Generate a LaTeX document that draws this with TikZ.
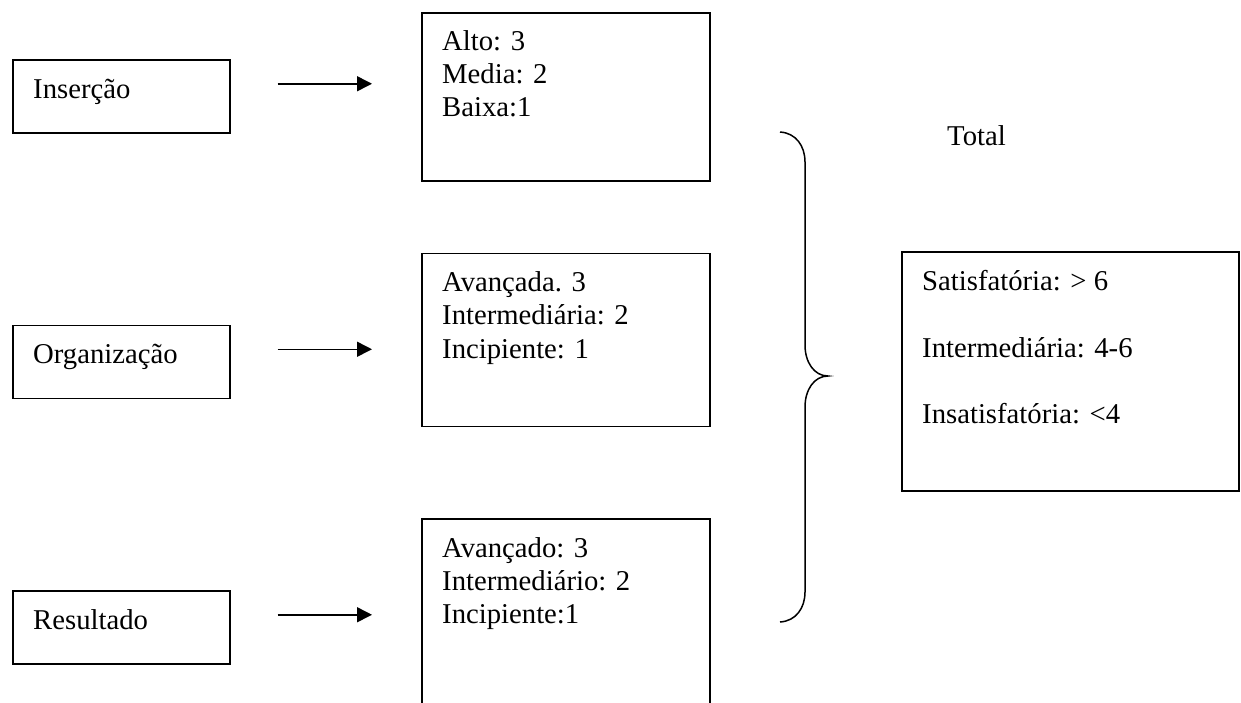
\documentclass[tikz,border=0pt]{standalone}
\usepackage{fontspec}
\setmainfont{Liberation Serif}
\usetikzlibrary{arrows.meta,positioning}

\begin{document}
\begin{tikzpicture}[
    x=1pt, y=-1pt,
    font=\fontsize{28.7}{33.3}\selectfont,
    >={Triangle[length=15pt, width=15pt]},
    box/.style={draw, line width=1.5pt, inner sep=0pt},
    txt/.style={anchor=north west, inner sep=0pt, align=left},
    arr/.style={->, line width=1.5pt, shorten >=49pt}
]
\useasboundingbox (0,0) rectangle (1241,702);
\clip (0,0) rectangle (1241,702);

% left column
\node[box, anchor=north west, minimum width=217pt, minimum height=73pt] (in1) at (12,59) {};
\node[box, below=191pt of in1, minimum width=217pt, minimum height=73pt] (in2) {};
\node[box, below=191pt of in2, minimum width=217pt, minimum height=73pt] (in3) {};
\node[anchor=base west, inner sep=0pt] (l1) at ([shift={(21,39)}]in1.north west) {Inserção};
\node[anchor=base west, inner sep=0pt] (l2) at ([shift={(21,39)}]in2.north west) {Organização};
\node[anchor=base west, inner sep=0pt] (l3) at ([shift={(21,39)}]in3.north west) {Resultado};

% score boxes
\node[box, anchor=north west, minimum width=288pt, minimum height=168pt] (sc1) at (421,12) {};
\node[box, below=71pt of sc1, minimum width=288pt, minimum height=173pt] (sc2) {};
\node[box, below=91pt of sc2, minimum width=288pt, minimum height=220pt] (sc3) {};
\node[txt] (s1) at ([shift={(21,18)}]sc1.north west) {Alto: 3\\Media: 2\\Baixa:1};
\node[txt] (s2) at ([shift={(21,19)}]sc2.north west) {Avançada. 3\\Intermediária: 2\\Incipiente: 1};
\node[txt] (s3) at ([shift={(21,19)}]sc3.north west) {Avançado: 3\\Intermediário: 2\\Incipiente:1};

\draw[arr] ([shift={(47,-12.5)}]in1.east) coordinate (a1) -- (a1 -| sc1.west);
\draw[arr] ([shift={(47,-12.5)}]in2.east) coordinate (a2) -- (a2 -| sc2.west);
\draw[arr] ([shift={(47,-12.5)}]in3.east) coordinate (a3) -- (a3 -| sc3.west);

% brace
\draw[line width=1.5pt] (780,132) .. controls (796,133) and (805,146) .. (805,162)
    -- (805,345) .. controls (805,362) and (814,376) .. (828,376)
    .. controls (814,376) and (805,390) .. (805,407)
    -- (805,592) .. controls (805,608) and (796,621) .. (780,622);

% total
\node[box, anchor=north west, minimum width=337pt, minimum height=239pt] (tot) at (901,251) {};
\node[anchor=base west, inner sep=0pt] (ttl) at ([shift={(46,-106)}]tot.north west) {Total};
\node[txt] (r1) at ([shift={(21,19)}]tot.north west) {Satisfatória: > 6\\[33.3pt]Intermediária: 4-6\\[33.3pt]Insatisfatória: <4};
\end{tikzpicture}
\end{document}
